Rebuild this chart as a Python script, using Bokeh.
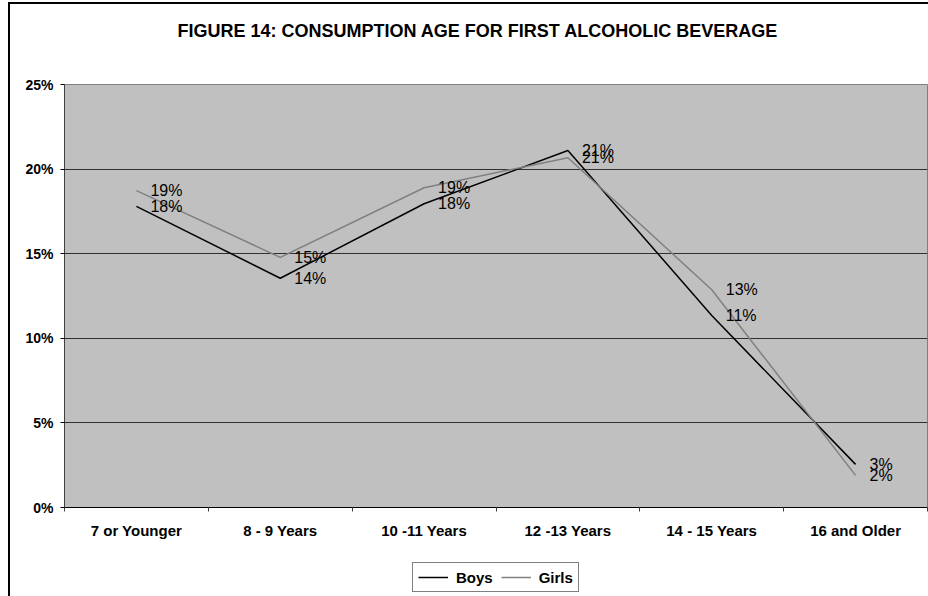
from bokeh.plotting import figure
from bokeh.layouts import column
from bokeh.models import (ColumnDataSource, FixedTicker, PrintfTickFormatter, LabelSet, Label,
                          Legend, LegendItem, Range1d)
from bokeh.core.properties import value
from bokeh.embed import file_html
from bokeh.resources import INLINE

title_text = "FIGURE 14: CONSUMPTION AGE FOR FIRST ALCOHOLIC BEVERAGE"
categories = ["7 or Younger", "8 - 9 Years", "10 -11 Years", "12 -13 Years", "14 - 15 Years", "16 and Older"]
boys = [17.8, 13.55, 17.95, 21.1, 11.35, 2.55]
girls = [18.73, 14.78, 18.9, 20.67, 12.87, 1.9]
y_ticks = [0, 5, 10, 15, 20, 25]
series_names = ["Boys", "Girls"]
series_colors = ["black", "#808080"]

FONT = "Liberation Sans"
FRAME_W = 863

xs = [i + 0.5 for i in range(len(categories))]


def blank(h):
    f = figure(width=918, height=h, output_backend="svg", toolbar_location=None,
               x_range=Range1d(0, FRAME_W), y_range=Range1d(0, h),
               x_axis_location=None, y_axis_location=None,
               min_border_left=0, min_border_right=0, min_border_top=0, min_border_bottom=0)
    f.xgrid.grid_line_color = None
    f.ygrid.grid_line_color = None
    f.outline_line_color = None
    f.background_fill_color = "white"
    f.border_fill_color = "white"
    return f


# header strip with the chart title
hd = blank(56)
hd.add_layout(Label(x=113, y=30, text=title_text, text_align="left", text_baseline="middle",
                    text_font=FONT, text_font_size="18px", text_font_style="bold",
                    text_color="black"))

p = figure(width=918, height=490, output_backend="svg", toolbar_location=None,
           x_range=Range1d(0, len(categories)), y_range=Range1d(0, 25),
           min_border_left=54, min_border_right=1, min_border_top=24, min_border_bottom=43)

p.background_fill_color = "#C0C0C0"
p.border_fill_color = "white"
p.outline_line_color = "#808080"
p.outline_line_width = 1

# grid
p.xgrid.grid_line_color = None
p.ygrid.grid_line_color = "#303030"
p.ygrid.grid_line_width = 1

# y axis
p.yaxis.ticker = FixedTicker(ticks=y_ticks)
p.yaxis.formatter = PrintfTickFormatter(format="%d%%")
p.yaxis.axis_line_color = "#404040"
p.yaxis.major_tick_out = 4
p.yaxis.major_tick_in = 0
p.yaxis.minor_tick_line_color = None
p.yaxis.major_label_standoff = 7
p.yaxis.major_label_text_font = FONT
p.yaxis.major_label_text_font_size = "14px"
p.yaxis.major_label_text_font_style = "bold"
p.yaxis.major_label_text_color = "black"

# x axis: labels at category centers, ticks at boundaries
p.xaxis.ticker = FixedTicker(ticks=xs, minor_ticks=list(range(len(categories) + 1)))
p.xaxis.major_label_overrides = {x: c for x, c in zip(xs, categories)}
p.xaxis.axis_line_color = "black"
p.xaxis.major_tick_out = 0
p.xaxis.major_tick_in = 0
p.xaxis.minor_tick_out = 4
p.xaxis.minor_tick_in = 0
p.xaxis.minor_tick_line_color = "#404040"
p.xaxis.major_label_standoff = 10
p.xaxis.major_label_text_font = FONT
p.xaxis.major_label_text_font_size = "15px"
p.xaxis.major_label_text_font_style = "bold"
p.xaxis.major_label_text_color = "black"

src = ColumnDataSource(dict(
    x=xs, boys=boys, girls=girls,
    boys_lbl=[f"{int(v + 0.5)}%" for v in boys],
    girls_lbl=[f"{int(v + 0.5)}%" for v in girls],
))

p.line("x", "boys", source=src, line_color=series_colors[0], line_width=1.5)
p.line("x", "girls", source=src, line_color=series_colors[1], line_width=1.5)

for col, lbl in (("boys", "boys_lbl"), ("girls", "girls_lbl")):
    p.add_layout(LabelSet(x="x", y=col, text=lbl, source=src, x_offset=14, y_offset=0,
                          text_baseline="middle", text_align="left",
                          text_font=value(FONT), text_font_size="16px", text_color="black"))

# legend strip below the chart (series drawn off-range there, only the key shows)
lg = blank(46)
items = []
for name, col, color in zip(series_names, ("boys", "girls"), series_colors):
    r = lg.line(x="x", y=col, source=src, line_color=color, line_width=1.5)
    items.append(LegendItem(label=name, renderers=[r]))
lg.x_range = Range1d(1000, 1000 + FRAME_W)
legend = Legend(items=items, orientation="horizontal", location=(348, 4))
legend.label_text_font = FONT
legend.label_text_font_size = "15px"
legend.label_text_font_style = "bold"
legend.label_text_color = "black"
legend.label_height = 18
legend.glyph_height = 18
legend.border_line_color = "black"
legend.border_line_width = 1
legend.background_fill_color = "white"
legend.glyph_width = 30
legend.label_standoff = 8
legend.spacing = 8
legend.padding = 5
legend.margin = 0
lg.add_layout(legend, "center")

layout = column(hd, p, lg, spacing=0,
                styles={"border-left": "2px solid black", "border-top": "2px solid black",
                        "margin-left": "8px", "margin-top": "2px"})

open("out.html", "w").write(file_html(layout, INLINE))
